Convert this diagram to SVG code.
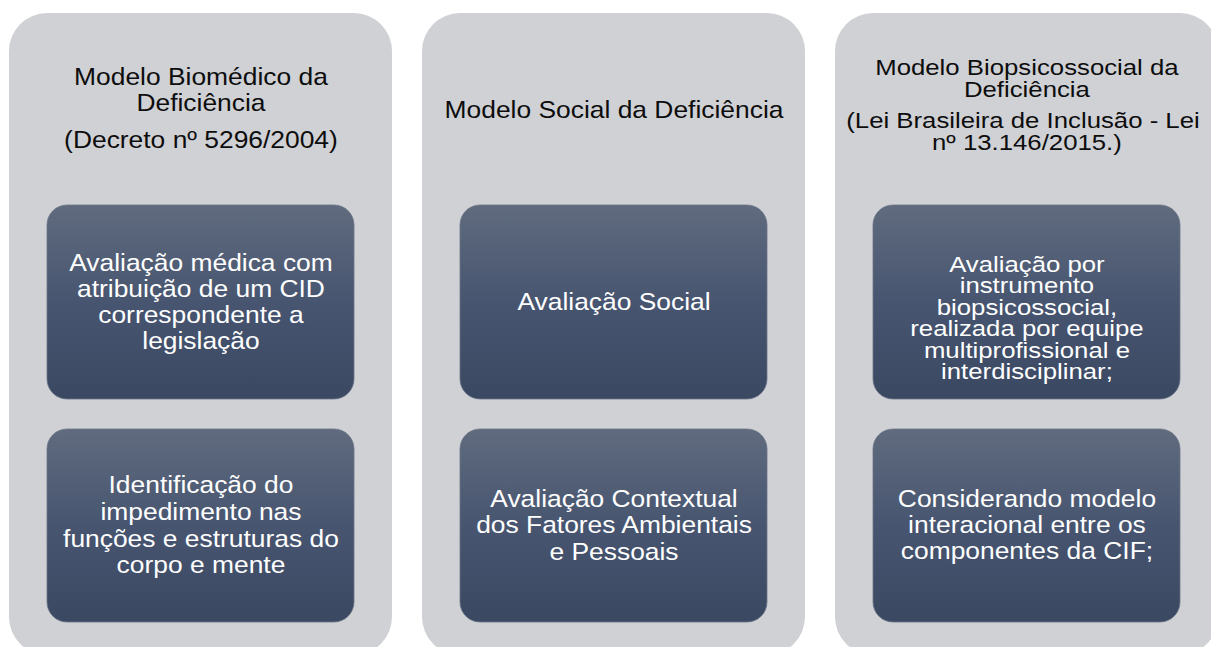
<svg xmlns="http://www.w3.org/2000/svg" width="1211" height="647" viewBox="0 0 1211 647">
<defs>
<linearGradient id="g" x1="0" y1="0" x2="0" y2="1">
<stop offset="0" stop-color="#606b7e"/>
<stop offset="0.5" stop-color="#475570"/>
<stop offset="1" stop-color="#3a4862"/>
</linearGradient>
<style>
.panel{fill:#d0d1d5}
.box{fill:url(#g);stroke:#6a7587;stroke-width:0.8}
.t{font-family:"Liberation Sans",Arial,sans-serif;font-size:24px;text-anchor:middle}
.tight{font-size:23px}
.dark{fill:#0d0d0d}
.light{fill:#ffffff}
</style>
</defs>
<rect width="1211" height="647" fill="#ffffff"/>
<g id="panel-biomedico">
<rect class="panel" x="9" y="13" width="383" height="642" rx="38" ry="38"/>
<g transform="scale(1.1 1)">
<text class="t dark" x="182.7" y="85">Modelo Biomédico da</text>
<text class="t dark" x="182.7" y="111">Deficiência</text>
<text class="t dark" x="182.7" y="148">(Decreto nº 5296/2004)</text>
</g>
</g>
<g id="panel-social">
<rect class="panel" x="422" y="13" width="383" height="642" rx="38" ry="38"/>
<g transform="scale(1.1 1)">
<text class="t dark" x="558.2" y="118">Modelo Social da Deficiência</text>
</g>
</g>
<g id="panel-biopsicossocial">
<rect class="panel" x="835" y="13" width="383" height="642" rx="38" ry="38"/>
<g transform="scale(1.12 1)">
<text class="t tight dark" x="916.9" y="75">Modelo Biopsicossocial da</text>
<text class="t tight dark" x="916.9" y="97">Deficiência</text>
<text class="t tight dark" x="913.4" y="128">(Lei Brasileira de Inclusão - Lei</text>
<text class="t tight dark" x="916.9" y="150">nº 13.146/2015.)</text>
</g>
</g>
<g id="box-avaliacao-medica">
<rect class="box" x="47" y="205" width="307" height="194" rx="20" ry="20"/>
<g transform="scale(1.1 1)">
<text class="t light" x="182.7" y="271">Avaliação médica com</text>
<text class="t light" x="182.7" y="297">atribuição de um CID</text>
<text class="t light" x="182.7" y="323">correspondente a</text>
<text class="t light" x="182.7" y="349">legislação</text>
</g>
</g>
<g id="box-identificacao">
<rect class="box" x="47" y="429" width="307" height="193" rx="20" ry="20"/>
<g transform="scale(1.1 1)">
<text class="t light" x="182.7" y="493">Identificação do</text>
<text class="t light" x="182.7" y="520">impedimento nas</text>
<text class="t light" x="182.7" y="547">funções e estruturas do</text>
<text class="t light" x="182.7" y="573">corpo e mente</text>
</g>
</g>
<g id="box-avaliacao-social">
<rect class="box" x="460" y="205" width="307" height="194" rx="20" ry="20"/>
<g transform="scale(1.1 1)">
<text class="t light" x="558.2" y="310">Avaliação Social</text>
</g>
</g>
<g id="box-avaliacao-contextual">
<rect class="box" x="460" y="429" width="307" height="193" rx="20" ry="20"/>
<g transform="scale(1.1 1)">
<text class="t light" x="558.2" y="507">Avaliação Contextual</text>
<text class="t light" x="558.2" y="533">dos Fatores Ambientais</text>
<text class="t light" x="558.2" y="560">e Pessoais</text>
</g>
</g>
<g id="box-instrumento">
<rect class="box" x="873" y="205" width="307" height="194" rx="20" ry="20"/>
<g transform="scale(1.12 1)">
<text class="t tight light" x="916.9" y="272">Avaliação por</text>
<text class="t tight light" x="916.9" y="293.5">instrumento</text>
<text class="t tight light" x="916.9" y="315">biopsicossocial,</text>
<text class="t tight light" x="916.9" y="336.5">realizada por equipe</text>
<text class="t tight light" x="916.9" y="358">multiprofissional e</text>
<text class="t tight light" x="916.9" y="379.5">interdisciplinar;</text>
</g>
</g>
<g id="box-cif">
<rect class="box" x="873" y="429" width="307" height="193" rx="20" ry="20"/>
<g transform="scale(1.1 1)">
<text class="t light" x="933.6" y="507">Considerando modelo</text>
<text class="t light" x="933.6" y="533">interacional entre os</text>
<text class="t light" x="933.6" y="559">componentes da CIF;</text>
</g>
</g>
<g id="connectors"></g>
</svg>
